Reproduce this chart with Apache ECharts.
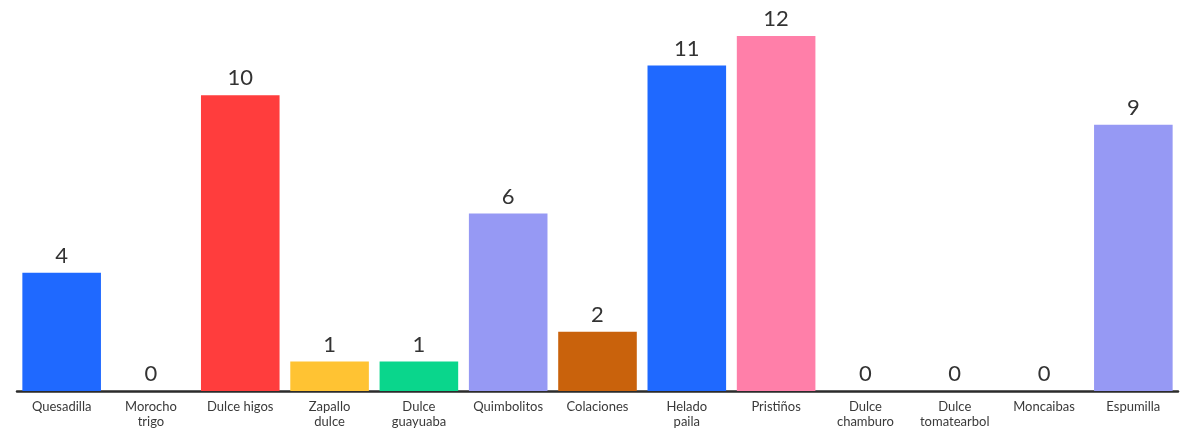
<!DOCTYPE html>
<html>
<head>
<meta charset="utf-8">
<script src="https://cdn.jsdelivr.net/npm/echarts@6/dist/echarts.min.js"></script>
<style>
  html, body { margin: 0; padding: 0; background: #ffffff; }
  #chart { width: 1180px; height: 430px; }
</style>
</head>
<body>
<div id="chart"></div>
<script>
// Dessert names and their counts
const categories = [
  'Quesadilla', 'Morocho\ntrigo', 'Dulce higos', 'Zapallo\ndulce', 'Dulce\nguayuaba',
  'Quimbolitos', 'Colaciones', 'Helado\npaila', 'Pristiños', 'Dulce\nchamburo',
  'Dulce\ntomatearbol', 'Moncaibas', 'Espumilla'
];
const counts = [4, 0, 10, 1, 1, 6, 2, 11, 12, 0, 0, 0, 9];
const barColors = [
  '#1f69ff', '#1f69ff', '#ff3d3d', '#ffc333', '#0ad68c',
  '#9699f4', '#c9620c', '#1f69ff', '#ff7fa9', '#1f69ff',
  '#1f69ff', '#1f69ff', '#9699f4'
];

const chart = echarts.init(document.getElementById('chart'));
chart.setOption({
  animation: false,
  backgroundColor: '#ffffff',
  grid: { left: 17, right: 2, top: 36, bottom: 39, containLabel: false },
  xAxis: {
    type: 'category',
    data: categories,
    axisLine: { show: true, lineStyle: { color: '#2b2b2b', width: 2.5 } },
    axisTick: { show: false },
    axisLabel: {
      interval: 0,
      color: '#3a3a3a',
      fontFamily: 'Lato, "Noto Sans", sans-serif',
      fontSize: 13,
      lineHeight: 15,
      margin: 8
    }
  },
  yAxis: {
    type: 'value',
    min: 0,
    max: 12,
    show: false,
    splitLine: { show: false }
  },
  series: [{
    type: 'bar',
    data: counts.map((v, i) => ({ value: v, itemStyle: { color: barColors[i] } })),
    barCategoryGap: '12%',
    label: {
      show: true,
      position: 'top',
      distance: 6,
      color: '#333333',
      fontFamily: 'Lato, "Noto Sans", sans-serif',
      fontSize: 22
    }
  }]
});
</script>
</body>
</html>
